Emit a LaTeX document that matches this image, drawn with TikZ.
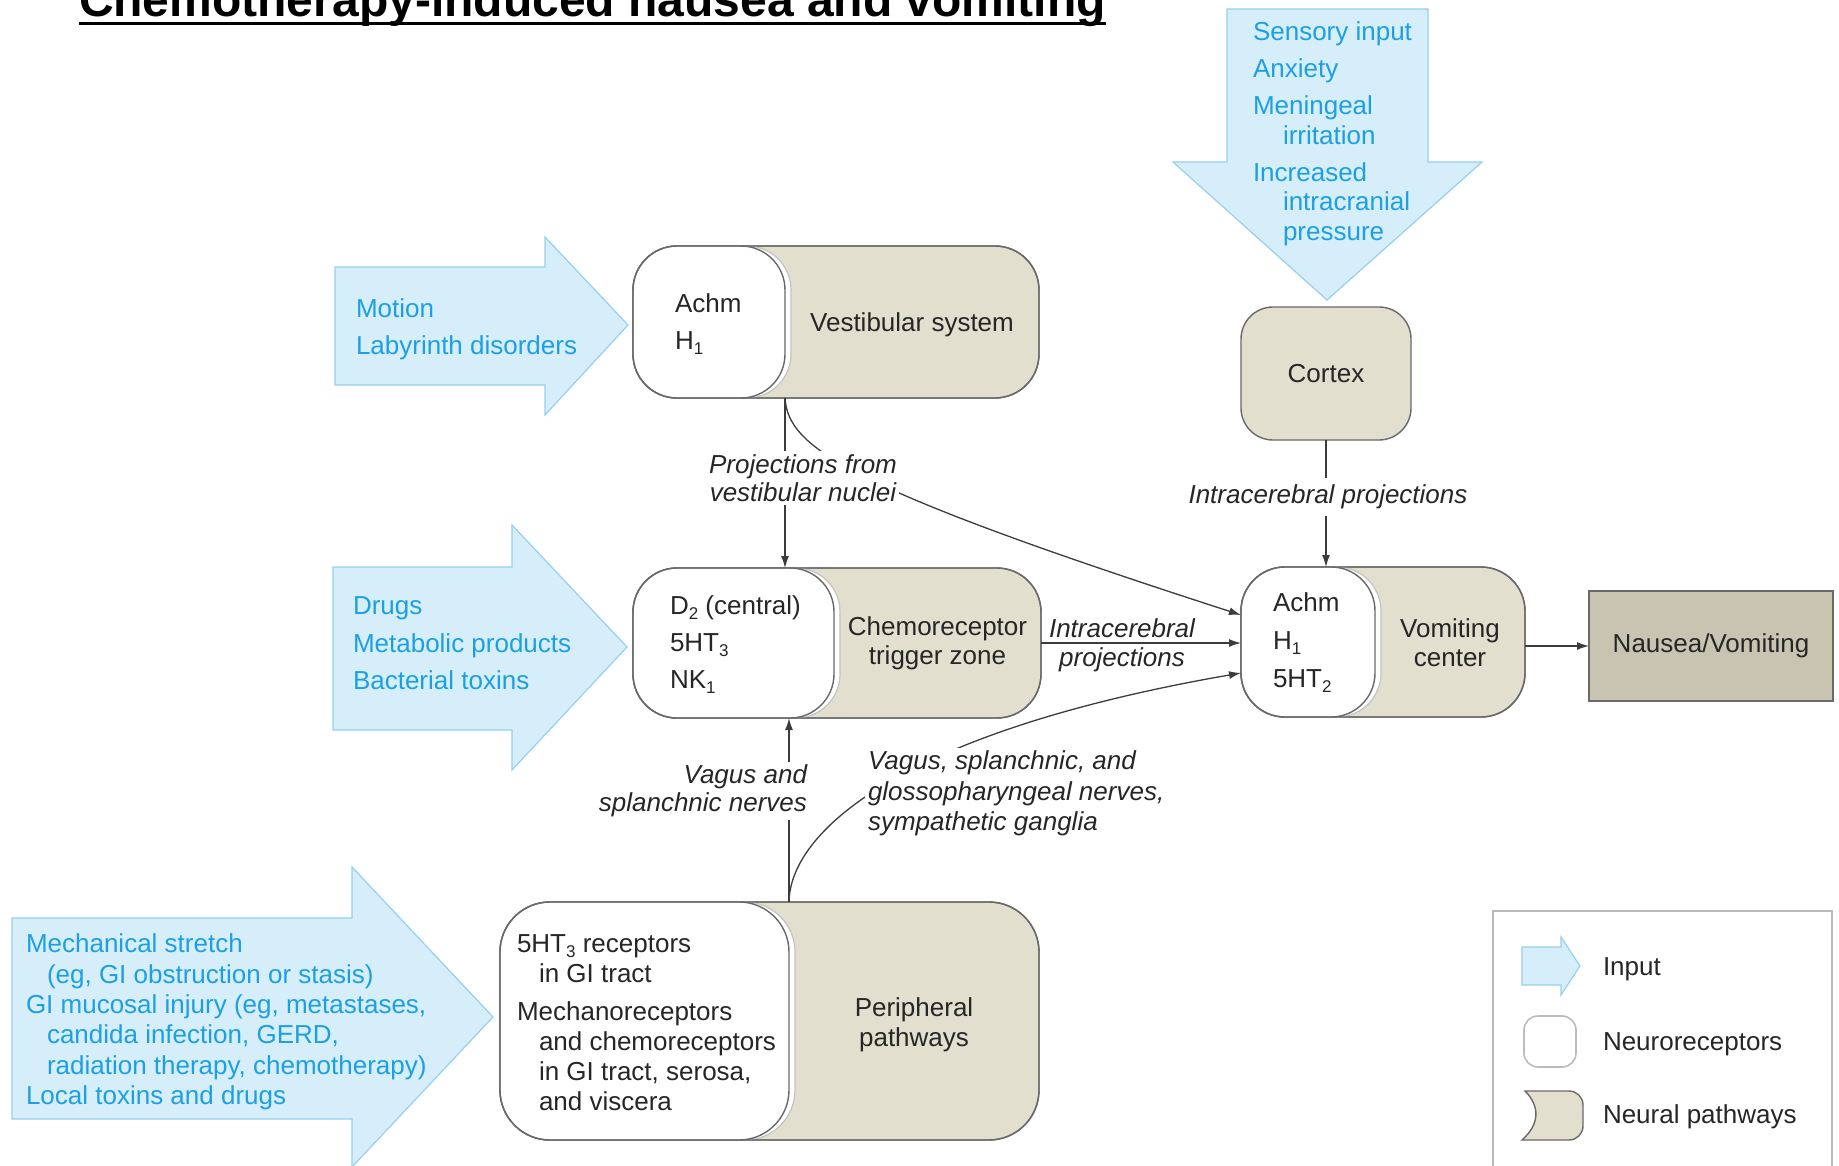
\documentclass[tikz,border=0pt]{standalone}
\usepackage{fontspec}
\setmainfont{Liberation Sans}
\usetikzlibrary{arrows.meta,calc}
\definecolor{inblue}{RGB}{214,237,250}
\definecolor{inedge}{RGB}{150,208,238}
\definecolor{intext}{RGB}{28,160,226}
\definecolor{tanfill}{RGB}{226,223,207}
\definecolor{tandark}{RGB}{201,196,178}
\definecolor{edge}{RGB}{105,105,105}
\definecolor{ink}{RGB}{38,38,38}
\definecolor{legedge}{RGB}{185,190,182}
\newcommand\lowsub[1]{\raisebox{-5pt}{\fontsize{17}{17}\selectfont #1}}
\begin{document}
\begin{tikzpicture}[x=1pt,y=-1pt,
  every node/.style={inner sep=0pt, outer sep=0pt},
  body/.style={font=\fontsize{26}{30}\selectfont, text=ink, align=left},
  bluetxt/.style={font=\fontsize{26}{36}\selectfont, text=intext, align=left},
  lab/.style={font=\fontsize{26}{28}\selectfont\itshape, text=ink, align=center},
  inshape/.style={fill=inblue, draw=inedge, line width=1.2pt},
  pathbox/.style={draw=edge, fill=tanfill, line width=1.4pt, rounded corners=44pt},
  recghost/.style={draw=edge!40, fill=white, line width=1.2pt, rounded corners=44pt},
  recbox/.style={draw=edge, fill=white, line width=1.4pt, rounded corners=44pt},
  outline/.style={draw=edge, line width=1.4pt, rounded corners=44pt},
  conn/.style={draw=ink!90, line width=1.3pt},
  arr/.style={conn, -{Latex[length=12pt,width=8pt]}}
]
\useasboundingbox (0,0) rectangle (1839,1166);

% title
\node[anchor=base west, font=\fontsize{48}{50}\selectfont\bfseries, text=black] (title) at (79,17) {Chemotherapy-induced nausea and vomiting};
\draw[line width=3pt] ([yshift=-7pt]title.base west) -- ([yshift=-7pt]title.base east);

% input arrows
\draw[inshape] (1227,9) -- (1428,9) -- (1428,162) -- (1482,162) -- (1327,300) -- (1173,162) -- (1227,162) -- cycle;
\draw[inshape] (335,267) -- (545,267) -- (545,237) -- (628,325) -- (545,415) -- (545,385) -- (335,385) -- cycle;
\draw[inshape] (333,567) -- (512,567) -- (512,525) -- (627,647) -- (512,770) -- (512,730) -- (333,730) -- cycle;
\draw[inshape] (12,918) -- (352,918) -- (352,867) -- (493,1017) -- (352,1167) -- (352,1119) -- (12,1119) -- cycle;

\node[bluetxt, anchor=north west, font=\fontsize{26}{29.5}\selectfont] (topT) at (1253,22)
  {Sensory input\\[7.5pt]Anxiety\\[7.5pt]Meningeal\\\hspace*{30pt}irritation\\[7.5pt]Increased\\\hspace*{30pt}intracranial\\\hspace*{30pt}pressure};
\node[bluetxt, anchor=north west, font=\fontsize{26}{37}\selectfont] (motionT) at (356,299) {Motion\\Labyrinth disorders};
\node[bluetxt, anchor=north west, font=\fontsize{26}{37.5}\selectfont] (drugsT) at (353,597) {Drugs\\Metabolic products\\Bacterial toxins};
\node[bluetxt, anchor=north west, font=\fontsize{26}{30.3}\selectfont] (mechT) at (26,934)
  {Mechanical stretch\\\hspace*{21pt}(eg, GI obstruction or stasis)\\GI mucosal injury (eg, metastases,\\\hspace*{21pt}candida infection, GERD,\\\hspace*{21pt}radiation therapy, chemotherapy)\\Local toxins and drugs};

% vestibular system
\node[pathbox, minimum width=406pt, minimum height=152pt] (vest) at (836,322) {};
\node[recghost, minimum width=158pt, minimum height=152pt, anchor=west] (vestG) at (vest.west) {};
\node[recbox, minimum width=152pt, minimum height=152pt, anchor=west] (vestR) at (vest.west) {};
\node[outline, minimum width=406pt, minimum height=152pt] (vestO) at (vest.center) {};
\node[body, anchor=west, font=\fontsize{26}{37}\selectfont] (vestRT) at (675,324) {Achm\\H\lowsub{1}};
\node[body] (vestT) at ($(vestR.east)!0.5!(vest.east)+(0,3)$) {Vestibular system};

% chemoreceptor trigger zone
\node[pathbox, minimum width=408pt, minimum height=150pt] (ctz) at (837,643) {};
\node[recghost, minimum width=207pt, minimum height=150pt, anchor=west] (ctzG) at (ctz.west) {};
\node[recbox, minimum width=201pt, minimum height=150pt, anchor=west] (ctzR) at (ctz.west) {};
\node[outline, minimum width=408pt, minimum height=150pt] (ctzO) at (ctz.center) {};
\node[body, anchor=west, font=\fontsize{26}{37}\selectfont] (ctzRT) at (670,645) {D\lowsub{2} (central)\\5HT\lowsub{3}\\NK\lowsub{1}};
\node[body, align=center, font=\fontsize{26}{29}\selectfont] (ctzT) at ($(ctzR.east)!0.5!(ctz.east)$) {Chemoreceptor\\trigger zone};

% vomiting center
\node[pathbox, minimum width=284pt, minimum height=150pt] (vom) at (1383,642) {};
\node[recghost, minimum width=140pt, minimum height=150pt, anchor=west] (vomG) at (vom.west) {};
\node[recbox, minimum width=134pt, minimum height=150pt, anchor=west] (vomR) at (vom.west) {};
\node[outline, minimum width=284pt, minimum height=150pt] (vomO) at (vom.center) {};
\node[body, anchor=west, font=\fontsize{26}{38}\selectfont] (vomRT) at (1273,643) {Achm\\H\lowsub{1}\\5HT\lowsub{2}};
\node[body, align=center, font=\fontsize{26}{29}\selectfont] (vomT) at ($(vomR.east)!0.5!(vom.east)+(0,1)$) {Vomiting\\center};

% peripheral pathways
\node[pathbox, rounded corners=50pt, minimum width=539pt, minimum height=238pt] (peri) at (769.5,1021) {};
\node[recghost, rounded corners=50pt, minimum width=295pt, minimum height=238pt, anchor=west] (periG) at (peri.west) {};
\node[recbox, rounded corners=50pt, minimum width=289pt, minimum height=238pt, anchor=west] (periR) at (peri.west) {};
\node[outline, rounded corners=50pt, minimum width=539pt, minimum height=238pt] (periO) at (peri.center) {};
\node[body, anchor=north west] (periRT) at (517,935)
  {5HT\lowsub{3} receptors\\\hspace*{22pt}in GI tract\\[8pt]Mechanoreceptors\\\hspace*{22pt}and chemoreceptors\\\hspace*{22pt}in GI tract, serosa,\\\hspace*{22pt}and viscera};
\node[body, align=center, font=\fontsize{26}{30}\selectfont] (periT) at ($(periR.east)!0.5!(peri.east)+(0,4)$) {Peripheral\\pathways};

% cortex and outcome
\node[pathbox, rounded corners=32pt, minimum width=170pt, minimum height=133pt, body, align=center] (cortex) at (1326,373.5) {Cortex};
\node[draw=edge, fill=tandark, line width=1.4pt, minimum width=244pt, minimum height=110pt, body, align=center] (naus) at (1711,646) {Nausea/Vomiting};

% connectors
\draw[arr] (vestR.south east) -- (vestR.south east |- ctz.north);
\draw[arr] (vestR.south east) .. controls ($(vestR.south east)+(3,50)$) and ($(vestR.south east)+(63,90)$) .. ($(vom.west)+(0,-27)$);
\draw[arr] (periR.north east) -- (periR.north east |- ctz.south);
\draw[arr] (periR.north east) .. controls ($(periR.north east)+(1,-70)$) and ($(periR.north east)+(111,-170)$) .. ($(vom.west)+(0,31)$);
\draw[arr] (ctz.east) -- (ctz.east -| vom.west);
\draw[arr] (cortex.south) -- (cortex.south |- vom.north);
\draw[arr] (vom.east |- naus.west) -- (naus.west);

% connector labels
\node[lab, fill=white, inner xsep=2pt, inner ysep=3pt] (pvn) at (803,478) {Projections from\\vestibular nuclei};
\node[lab, fill=white, inner xsep=3pt, inner ysep=7pt] (icp1) at (1328,497) {Intracerebral projections};
\node[lab, font=\fontsize{26}{29}\selectfont\itshape] (icp2) at (1122,645) {Intracerebral\\projections};
\node[lab, fill=white, align=right, anchor=east, inner sep=3pt] (vsn) at (810,791) {Vagus and\\splanchnic nerves};
\node[lab, fill=white, align=left, anchor=north west, inner sep=3pt, font=\fontsize{26}{30.5}\selectfont\itshape] (vsg) at (865,748) {Vagus, splanchnic, and\\glossopharyngeal nerves,\\sympathetic ganglia};

% legend
\draw[draw=gray!55, line width=2pt] (1493,1175) -- (1493,911) -- (1832,911) -- (1832,1175);
\draw[inshape] (1522,947) -- (1561,947) -- (1561,937) -- (1580,966) -- (1561,995) -- (1561,985) -- (1522,985) -- cycle;
\node[body, anchor=base west] (legIn) at (1603,975) {Input};
\draw[draw=legedge, fill=white, line width=1.6pt, rounded corners=14pt] (1524,1016) rectangle (1576,1067);
\node[body, anchor=base west] (legRec) at (1603,1050) {Neuroreceptors};
\draw[draw=edge, fill=tanfill, line width=1.4pt] (1522,1140) .. controls (1540,1124) and (1540,1106) .. (1525,1091) -- (1569,1091) to[out=0,in=90] (1583,1105) -- (1583,1126) to[out=-90,in=0] (1569,1140) -- cycle;
\node[body, anchor=base west] (legPath) at (1603,1123) {Neural pathways};
\end{tikzpicture}
\end{document}
